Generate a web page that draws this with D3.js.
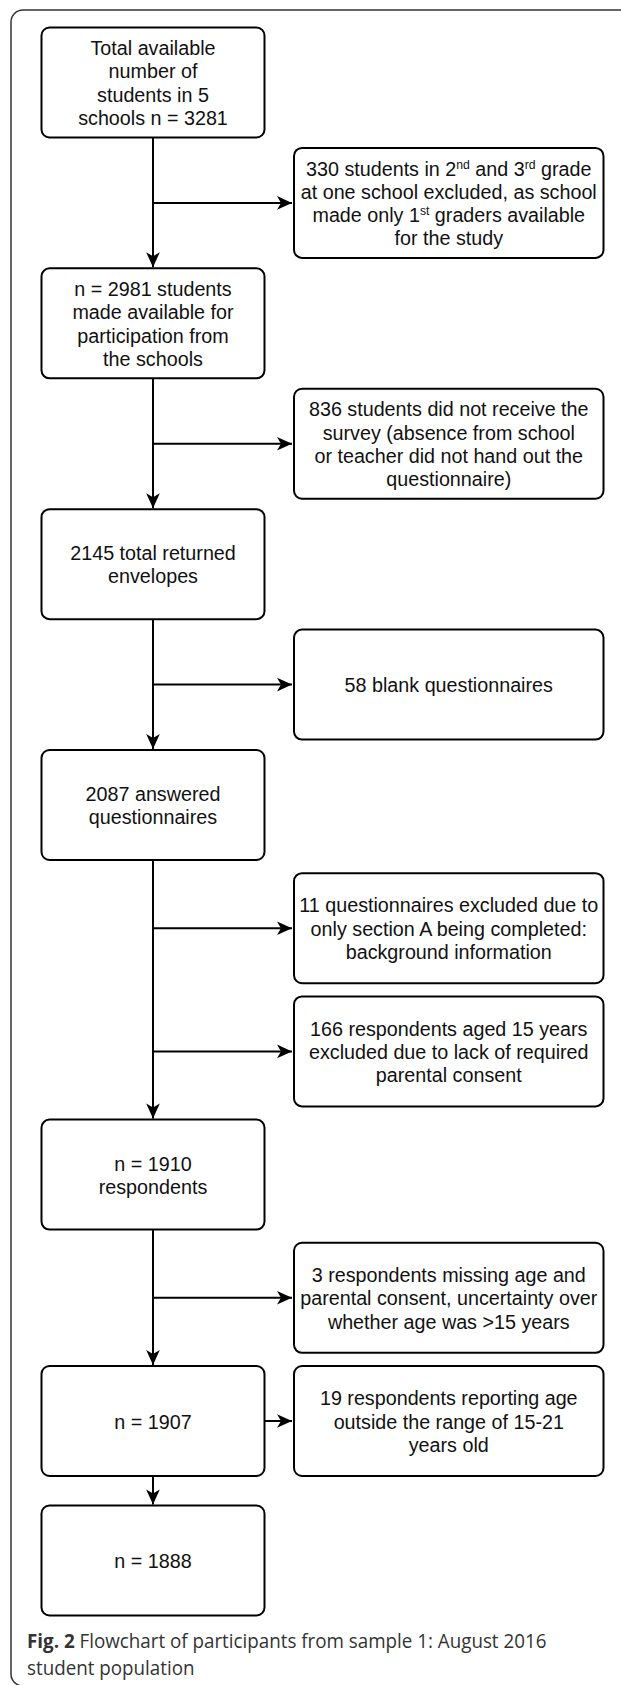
<!DOCTYPE html>
<html>
<head>
<meta charset="utf-8">
<script src="https://cdn.jsdelivr.net/npm/d3@7"></script>
<style>
  body { margin: 0; background: #fff; }
  svg { display: block; }
</style>
</head>
<body>
<svg id="chart" width="621" height="1685"></svg>
<script>
// main flow boxes, top to bottom
var mainSteps = [
  ["Total available", "number of", "students in 5", "schools n = 3281"],
  ["n = 2981 students", "made available for", "participation from", "the schools"],
  ["2145 total returned", "envelopes"],
  ["2087 answered", "questionnaires"],
  ["n = 1910", "respondents"],
  ["n = 1907"],
  ["n = 1888"]
];
var mainSlots = [0, 2, 4, 6, 9, 11, 12];

// excluded groups (^{..} = superscript suffix)
var exclusions = [
  ["330 students in 2^{nd} and 3^{rd} grade", "at one school excluded, as school", "made only 1^{st} graders available", "for the study"],
  ["836 students did not receive the", "survey (absence from school", "or teacher did not hand out the", "questionnaire)"],
  ["58 blank questionnaires"],
  ["11 questionnaires excluded due to", "only section A being completed:", "background information"],
  ["166 respondents aged 15 years", "excluded due to lack of required", "parental consent"],
  ["3 respondents missing age and", "parental consent, uncertainty over", "whether age was >15 years"],
  ["19 respondents reporting age", "outside the range of 15-21", "years old"]
];
var exclusionSlots = [1, 3, 5, 7, 8, 10, 11];
var exclusionFrom = [0, 1, 2, 3, 3, 4, 5];

var captionBold = "Fig. 2";
var captionLines = [" Flowchart of participants from sample 1: August 2016", "student population"];

var svg = d3.select("#chart");
var boxH = 110, lineH = 23.3, fontSize = 21, squeeze = 0.94;
var leftX = 41.5, leftW = 223, rightX = 294, rightW = 309.5;
var colX = leftX + leftW / 2;

// slot index -> box top
var y = d3.scaleLinear().domain([0, 6, 11]).range([27.5, 750, 1366]);
var slotY = (s) => s <= 11 ? y(s) : y(11) + boxH + 29.5;

// outer frame
svg.append("rect")
  .attr("x", 11).attr("y", 10)
  .attr("width", 700).attr("height", 1676)
  .attr("rx", 12)
  .attr("fill", "none")
  .attr("stroke", "#333")
  .attr("stroke-width", 1.5);

svg.append("defs").append("marker")
  .attr("id", "arrow")
  .attr("viewBox", "-16 -8 17 16")
  .attr("refX", 0).attr("refY", 0)
  .attr("markerWidth", 17).attr("markerHeight", 16)
  .attr("markerUnits", "userSpaceOnUse")
  .attr("orient", "auto")
  .append("path")
  .attr("d", "M0,0 L-15,-6.8 L-11,0 L-15,6.8 Z")
  .attr("fill", "#000");

var links = svg.append("g")
  .attr("stroke", "#000")
  .attr("stroke-width", 2)
  .attr("fill", "none");

// vertical arrows between main boxes
links.selectAll("line.down")
  .data(mainSlots.slice(1))
  .join("line")
  .attr("class", "down")
  .attr("x1", colX).attr("x2", colX)
  .attr("y1", (d, i) => slotY(mainSlots[i]) + boxH)
  .attr("y2", (d) => slotY(d) - 1)
  .attr("marker-end", "url(#arrow)");

// side branches to exclusion boxes
links.selectAll("line.side")
  .data(exclusionSlots)
  .join("line")
  .attr("class", "side")
  .attr("x1", (d, i) => mainSlots[exclusionFrom[i]] === d ? leftX + leftW : colX)
  .attr("x2", rightX - 2)
  .attr("y1", (d) => slotY(d) + boxH / 2)
  .attr("y2", (d) => slotY(d) + boxH / 2)
  .attr("marker-end", "url(#arrow)");

function drawBoxes(cls, data, slots, x0, w) {
  var g = svg.selectAll("g." + cls)
    .data(data)
    .join("g")
    .attr("class", cls)
    .attr("transform", (d, i) => "translate(" + x0 + "," + slotY(slots[i]) + ")");

  g.append("rect")
    .attr("x", 0).attr("y", 0)
    .attr("width", w).attr("height", boxH)
    .attr("rx", 8)
    .attr("fill", "#fff")
    .attr("stroke", "#000")
    .attr("stroke-width", 2);

  g.each(function(lines) {
    // the original type is a bit condensed, so squeeze it horizontally
    var t = d3.select(this).append("text")
      .attr("transform", "translate(" + (w / 2) + ",0) scale(" + squeeze + ",1)")
      .attr("text-anchor", "middle")
      .attr("font-family", "'Liberation Sans', Arial, sans-serif")
      .attr("font-size", fontSize)
      .attr("fill", "#111");
    var top = boxH / 2 - (lines.length - 1) * lineH / 2 + fontSize * 0.36;
    lines.forEach(function(line, k) {
      var tl = t.append("tspan").attr("x", 0).attr("y", top + k * lineH);
      var raised = false;
      line.split(/(\^\{[^}]*\})/).filter((s) => s.length).forEach(function(part) {
        var m = part.match(/^\^\{([^}]*)\}$/);
        if (m) {
          tl.append("tspan").attr("dy", -7).attr("font-size", 13).text(m[1]);
          raised = true;
        } else {
          var p = tl.append("tspan").text(part);
          if (raised) p.attr("dy", 7);
          raised = false;
        }
      });
    });
  });
}

drawBoxes("main", mainSteps, mainSlots, leftX, leftW);
drawBoxes("excl", exclusions, exclusionSlots, rightX, rightW);

// caption
var cap = svg.append("text")
  .attr("transform", "translate(27,0) scale(0.94,1)")
  .attr("font-family", "'Open Sans', 'Noto Sans', sans-serif")
  .attr("font-size", 20)
  .attr("fill", "#333");
var l1 = cap.append("tspan").attr("x", 0).attr("y", 1648);
l1.append("tspan").attr("font-weight", "bold").text(captionBold);
l1.append("tspan").text(captionLines[0]);
cap.append("tspan").attr("x", 0).attr("y", 1675).text(captionLines[1]);
</script>
</body>
</html>
